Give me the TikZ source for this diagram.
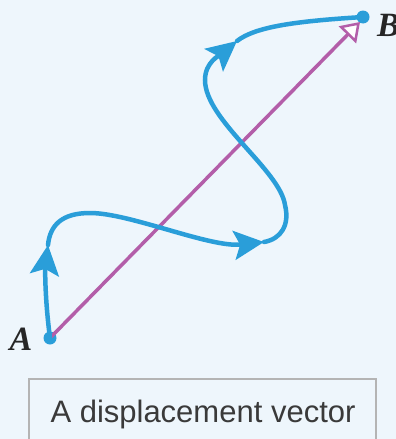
\documentclass[tikz,border=0pt]{standalone}
\usepackage{fontspec}
\setmainfont{Liberation Serif}
\newfontfamily\capfont{Liberation Sans}
\usetikzlibrary{arrows.meta}
\definecolor{pathblue}{HTML}{2A9ED9}
\definecolor{vecpurple}{HTML}{B35EA9}
\definecolor{paleback}{HTML}{EEF6FC}
\definecolor{boxgrey}{HTML}{B4B4B4}
\definecolor{captext}{HTML}{3A3A3A}

\begin{document}
\begin{tikzpicture}[x=1pt, y=-1pt,
  endpt/.style={circle, fill=pathblue, minimum size=13pt, inner sep=0pt},
  lbl/.style={font=\fontsize{34}{34}\selectfont\bfseries\itshape, text=black!85, inner sep=0pt},
  trail/.style={pathblue, line width=4.5pt, line cap=round},
  trailtip/.style={trail, -{Stealth[length=30pt, width=29pt, inset=6pt]}},
]
% Background
\clip (0,0) rectangle (396,439);
\fill[paleback] (0,0) rectangle (396,439);

% Caption box
\draw[boxgrey, line width=1.5pt] (29,379) rectangle (376,470);
\node[font=\capfont\fontsize{31}{31}\selectfont, text=captext, anchor=base] (cap) at (203,422) {A displacement vector};

% End points
\node[endpt] (ptA) at (50,338) {};
\node[endpt] (ptB) at (363,17) {};
\node[lbl] (labA) at (21,339) {A};
\node[lbl, anchor=west] (labB) at (377,25) {B};

% Displacement vector
\coordinate (tipB) at (360,22);
\draw[vecpurple, line width=3.5pt, -{Triangle[length=18pt, width=24pt, fill=white, line width=2.5pt]}] (ptA.center) -- (tipB);

% Path taken, arrow tips on the way
\coordinate (t1) at (48,245);
\coordinate (t2) at (264,242);
\coordinate (t3) at (237,41);
\draw[trailtip] (ptA.center) .. controls (45,300) and (45,270) .. (t1);
\draw[trailtip] (t1) .. controls (50,225) and (62,213) .. (90,213)
  .. controls (130,213) and (210,248) .. (t2);
\draw[trailtip] (t2) .. controls (281,239) and (290,225) .. (285,205)
  .. controls (280,170) and (205,120) .. (205,80)
  .. controls (205,62) and (220,55) .. (t3);
\draw[trail] (t3) .. controls (256,26) and (300,21) .. (ptB.center);
\end{tikzpicture}
\end{document}
